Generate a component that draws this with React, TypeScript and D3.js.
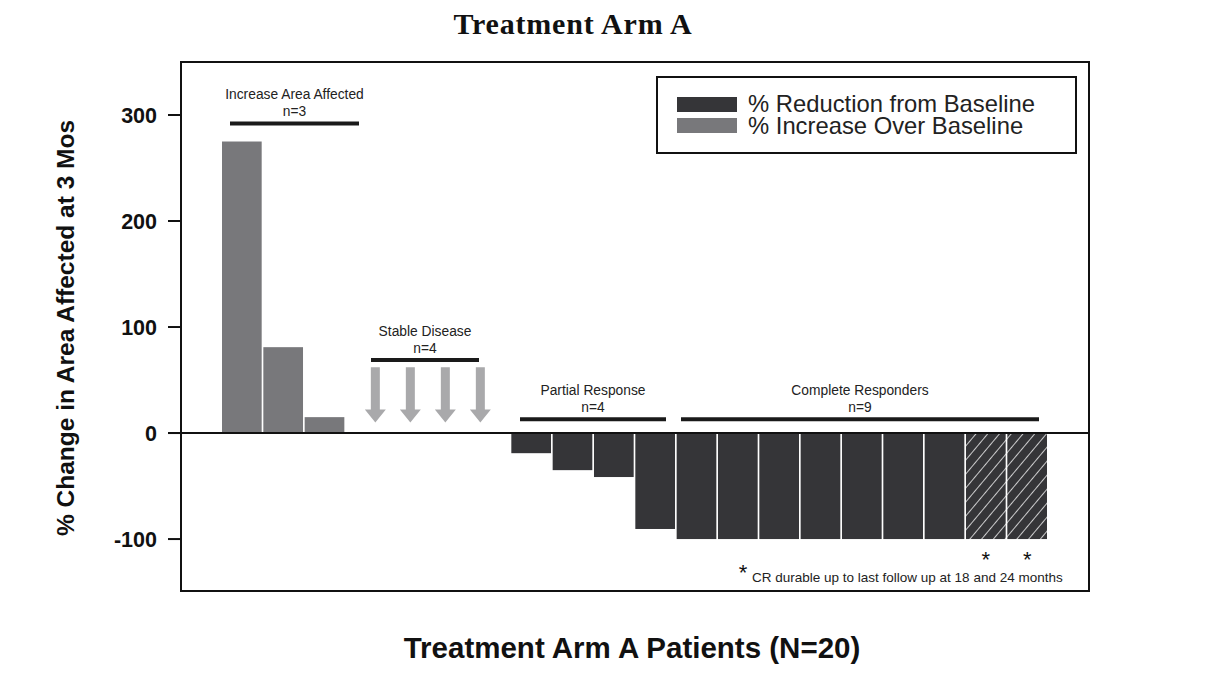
import React from "react";
import * as d3 from "d3";

const patients = d3.range(1, 21).map((i) => `P${i}`);
const values = [275, 81, 15, 0, 0, 0, 0, -19, -35, -41.5, -90.5, -100, -100, -100, -100, -100, -100, -100, -100, -100];
const kinds = ["inc", "inc", "inc", "sd", "sd", "sd", "sd", "red", "red", "red", "red", "red", "red", "red", "red", "red", "red", "red", "hatch", "hatch"];
const yTicks = [300, 200, 100, 0, -100];
const groups = [
  { label: "Increase Area Affected", n: "n=3", from: 0, to: 2 },
  { label: "Stable Disease", n: "n=4", from: 3, to: 6 },
  { label: "Partial Response", n: "n=4", from: 7, to: 10 },
  { label: "Complete Responders", n: "n=9", from: 11, to: 19 },
];
const legendItems = [
  { label: "% Reduction from Baseline", kind: "red" },
  { label: "% Increase Over Baseline", kind: "inc" },
];

const W = 1216, H = 700;
const box = { l: 181, t: 62, r: 1089, b: 591 };
const DARK = "#353538";
const GRAY = "#78787b";
const ARROW = "#a9a9ab";
const SANS = "'Liberation Sans', Arial, sans-serif";

export default function App() {
  const x = d3.scaleBand<string>().domain(patients).range([222, 1047]).paddingInner(0.04).paddingOuter(0);
  const y = d3.scaleLinear().domain([-149, 350]).range([box.b, box.t]);
  const bw = x.bandwidth();
  const y0 = y(0);

  const groupLayout = [
    { lineY: y(292), x0: 230, x1: 359 },
    { lineY: y(69), x0: 371, x1: 479 },
    { lineY: y(13), x0: 520, x1: 666 },
    { lineY: y(13), x0: 681, x1: 1039 },
  ];

  const sdIdx = patients.map((_, i) => i).filter((i) => kinds[i] === "sd");
  const sdCenter = (x(patients[sdIdx[0]])! + x(patients[sdIdx[sdIdx.length - 1]])! + bw) / 2;
  const arrowTop = y(62);
  const arrowBot = y(10);

  return (
    <svg width={W} height={H} style={{ position: "absolute", left: 0, top: 0, background: "#fff" }}>
      <defs>
        <pattern id="hatch" patternUnits="userSpaceOnUse" width="9" height="9" patternTransform="rotate(40)">
          <rect width="9" height="9" fill={DARK} />
          <line x1="0" y1="0" x2="0" y2="9" stroke="#fff" strokeWidth="1.5" />
        </pattern>
      </defs>
      <text x={573} y={34} textAnchor="middle" fontFamily="'Liberation Serif', 'Times New Roman', serif" fontWeight="bold" fontSize={30} letterSpacing={0.8} fill="#111">
        Treatment Arm A
      </text>

      <rect x={box.l} y={box.t} width={box.r - box.l} height={box.b - box.t} fill="none" stroke="#111" strokeWidth={2} />

      {yTicks.map((t) => (
        <g key={t}>
          <line x1={168} x2={box.l} y1={y(t)} y2={y(t)} stroke="#111" strokeWidth={2} />
          <text x={157} y={y(t)} dy="0.35em" textAnchor="end" fontFamily={SANS} fontWeight="bold" fontSize={21.5} fill="#111">
            {t}
          </text>
        </g>
      ))}

      {patients.map((p, i) => {
        const v = values[i];
        if (kinds[i] === "sd") return null;
        const top = Math.min(y(v), y0);
        const h = Math.abs(y(v) - y0);
        const fill = kinds[i] === "inc" ? GRAY : kinds[i] === "hatch" ? "url(#hatch)" : DARK;
        return <rect key={p} x={x(p)} y={top} width={bw} height={h} fill={fill} />;
      })}

      {sdIdx.map((i, k) => {
        const cx = sdCenter + (k - 1.5) * 35;
        const sw = 4.5, hw = 10.5, hh = 13;
        const pts = [
          [cx - sw, arrowTop], [cx + sw, arrowTop], [cx + sw, arrowBot - hh], [cx + hw, arrowBot - hh],
          [cx, arrowBot], [cx - hw, arrowBot - hh], [cx - sw, arrowBot - hh],
        ];
        return <polygon key={i} points={pts.map((q) => q.join(",")).join(" ")} fill={ARROW} />;
      })}

      <line x1={168} x2={box.r} y1={y0} y2={y0} stroke="#111" strokeWidth={2} />

      {groups.map((g, gi) => {
        const L = groupLayout[gi];
        const cx = (L.x0 + L.x1) / 2;
        return (
          <g key={g.label}>
            <line x1={L.x0} x2={L.x1} y1={L.lineY} y2={L.lineY} stroke="#1a1a1a" strokeWidth={4} />
            <text x={cx} y={L.lineY - 24} textAnchor="middle" fontFamily={SANS} fontSize={13.8} fill="#222">{g.label}</text>
            <text x={cx} y={L.lineY - 7} textAnchor="middle" fontFamily={SANS} fontSize={13.8} fill="#222">{g.n}</text>
          </g>
        );
      })}

      {patients.map((p, i) =>
        kinds[i] === "hatch" ? (
          <text key={p} x={x(p)! + bw / 2} y={y(-100) + 28} textAnchor="middle" fontFamily={SANS} fontSize={22} fill="#111">*</text>
        ) : null
      )}
      <text x={743} y={580} textAnchor="middle" fontFamily={SANS} fontSize={22} fill="#111">*</text>
      <text x={752} y={582} fontFamily={SANS} fontSize={13.5} fill="#222">CR durable up to last follow up at 18 and 24 months</text>

      <rect x={657} y={77} width={419} height={76} fill="#fff" stroke="#111" strokeWidth={2} />
      {legendItems.map((it, k) => (
        <g key={it.label}>
          <rect x={677} y={97 + k * 21} width={60} height={15} fill={it.kind === "inc" ? GRAY : DARK} />
          <text x={748} y={112 + k * 22} fontFamily={SANS} fontSize={23.8} fill="#222">{it.label}</text>
        </g>
      ))}

      <text transform={`translate(74,328) rotate(-90)`} textAnchor="middle" fontFamily={SANS} fontWeight="bold" fontSize={24.5} fill="#111">
        % Change in Area Affected at 3 Mos
      </text>
      <text x={632} y={658} textAnchor="middle" fontFamily={SANS} fontWeight="bold" fontSize={29.5} fill="#111">
        Treatment Arm A Patients (N=20)
      </text>
    </svg>
  );
}
